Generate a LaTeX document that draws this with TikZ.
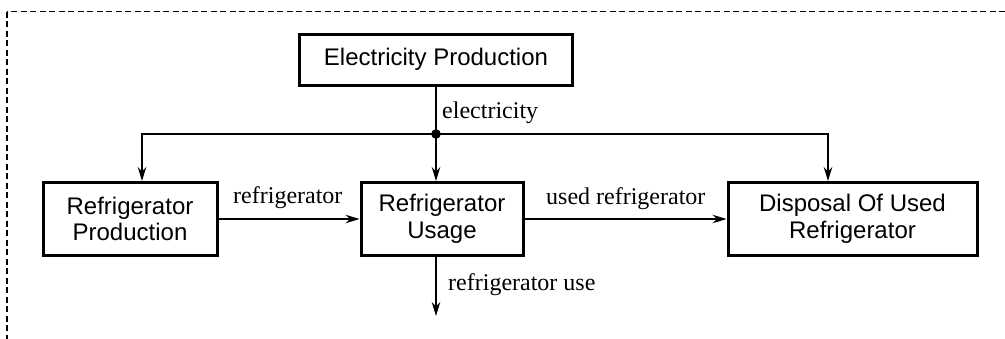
\documentclass[tikz,border=0pt]{standalone}
\usepackage{fontspec}
\setmainfont{Liberation Serif}
\newfontfamily\boxfont{Liberation Sans}
\usetikzlibrary{arrows.meta}
\tikzset{
  procbox/.style={draw, line width=3pt, inner sep=0pt, align=center,
    font=\boxfont\fontsize{24}{26.5}\selectfont},
  flowlabel/.style={inner sep=0pt, anchor=base west, font=\fontsize{24}{26}\selectfont},
  flow/.style={line width=1.3pt, -{Stealth[length=14pt,width=8.5pt,inset=4.5pt]}},
  plainflow/.style={line width=1.3pt},
  frame/.style={line width=1.2pt, dash pattern=on 6pt off 3.5pt}
}
\begin{document}
\begin{tikzpicture}[x=1pt,y=-1pt]
\clip (0,0) rectangle (1005,338);
\draw[frame] (7,11.5) rectangle (1040,380);

\node[procbox, minimum width=273pt, minimum height=51pt] (ep) at (436,59.5) {Electricity Production};
\node[procbox, minimum width=174pt, minimum height=73pt] (rp) at (130,219) {Refrigerator\\Production};
\node[procbox, minimum width=162pt, minimum height=73pt] (ru) at (442,219) {Refrigerator\\Usage};
\node[procbox, minimum width=249pt, minimum height=73pt] (du) at (852.5,219) {Disposal Of Used\\Refrigerator};

\coordinate (j) at (436,134);
\coordinate (lt) at (142,134);
\coordinate (rt) at (828,134);
\coordinate (ue) at (436,316);

\draw[plainflow] (ep.south) -- (j);
\draw[flow] (j) -- (j |- ru.north);
\draw[flow] (j) -- (lt) -- (lt |- rp.north);
\draw[flow] (j) -- (rt) -- (rt |- du.north);
\draw[flow] (rp.east) -- (ru.west);
\draw[flow] (ru.east) -- (du.west);
\draw[flow] (j |- ru.south) -- (ue);
\fill (j) circle (4.8pt);

\node[flowlabel] (le) at (442,118) {electricity};
\node[flowlabel] (lr) at (233,203) {refrigerator};
\node[flowlabel] (lu) at (546,204) {used refrigerator};
\node[flowlabel] (lx) at (448,290) {refrigerator use};
\end{tikzpicture}
\end{document}
